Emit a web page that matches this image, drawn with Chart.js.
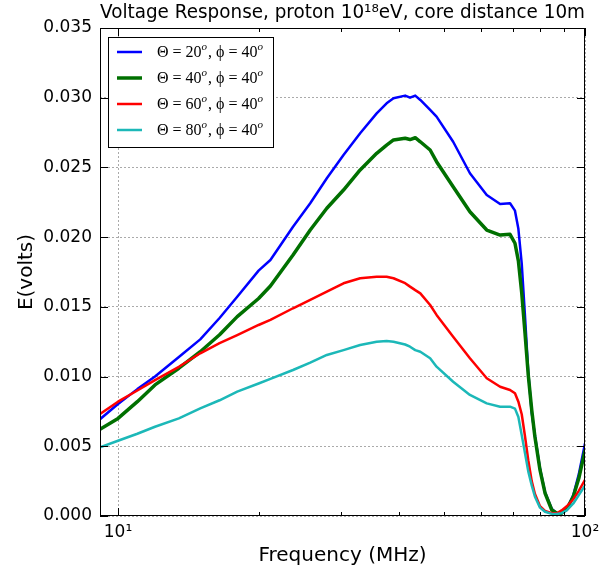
<!DOCTYPE html>
<html>
<head>
<meta charset="utf-8">
<script src="https://cdn.jsdelivr.net/npm/chart.js@4.4.0/dist/chart.umd.min.js"></script>
<style>
  html, body { margin: 0; padding: 0; background: #fff; }
  #wrap { width: 607px; height: 566px; }
</style>
</head>
<body>
<div id="wrap"><canvas id="voltChart" width="607" height="566"></canvas></div>
<script>
// frequency samples (MHz), shared by the four curves
const freqs = [9.15, 10, 11, 12, 13.5, 15, 16.5, 18, 20, 21.2, 23.7, 25.8, 28, 30.4, 33, 35.8, 37.6, 38.9,
  41.2, 42.2, 43.3, 44.4, 46.6, 48.1, 52.2, 56.7, 61.6, 65.8, 69.1, 70.8, 72.0, 73.2, 74.4, 75.6, 76.9,
  78.1, 80.1, 82.1, 84.9, 87.0, 89.1, 91.4, 94.4, 97.0, 100];

// E (volts)
const theta20 = [0.00694, 0.00803, 0.0091, 0.0100, 0.0114, 0.01267, 0.0142, 0.01573, 0.0176, 0.01836, 0.02075,
  0.02243, 0.02422, 0.02589, 0.02745, 0.02888, 0.0296, 0.02996, 0.03015, 0.0300, 0.03015, 0.02984, 0.02912,
  0.02864, 0.02684, 0.02458, 0.02302, 0.02238, 0.02243, 0.0219, 0.0206, 0.0181, 0.0143, 0.0103, 0.0074,
  0.0058, 0.0034, 0.0017, 0.0005, 0.0002, 0.0002, 0.0005, 0.0015, 0.0030, 0.0052];
const theta40 = [0.00622, 0.0070, 0.0082, 0.0094, 0.0106, 0.01178, 0.0130, 0.0143, 0.0156, 0.0165, 0.01872,
  0.02051, 0.02207, 0.02338, 0.02482, 0.02601, 0.0266, 0.02697, 0.02709, 0.0270, 0.02713, 0.02684, 0.02625,
  0.02541, 0.02362, 0.02182, 0.02051, 0.02015, 0.0202, 0.01956, 0.0183, 0.0160, 0.0131, 0.0101, 0.0076,
  0.0057, 0.0033, 0.00165, 0.00043, 0.0002, 0.0002, 0.0005, 0.0014, 0.0027, 0.0047];
const theta60 = [0.00732, 0.0082, 0.0090, 0.00975, 0.0107, 0.01167, 0.0124, 0.01298, 0.0137, 0.01406, 0.0149,
  0.0155, 0.01609, 0.01669, 0.01705, 0.01716, 0.01716, 0.01705, 0.0167, 0.01645, 0.0162, 0.01597, 0.01513,
  0.01442, 0.01286, 0.01131, 0.00988, 0.00927, 0.00904, 0.0088, 0.0082, 0.0073, 0.0057, 0.0040, 0.0025,
  0.0016, 0.0007, 0.00036, 0.0002, 0.0002, 0.0004, 0.0007, 0.0012, 0.0018, 0.0026];
const theta80 = [0.00493, 0.0054, 0.0059, 0.0064, 0.0070, 0.00772, 0.0083, 0.00892, 0.0095, 0.00983, 0.01047,
  0.0110, 0.01155, 0.0119, 0.01226, 0.0125, 0.01255, 0.0125, 0.0123, 0.01214, 0.0119, 0.01178, 0.01131,
  0.01071, 0.00963, 0.00868, 0.00808, 0.00784, 0.00784, 0.0077, 0.0071, 0.0058, 0.0045, 0.0032, 0.0022,
  0.0014, 0.0006, 0.0003, 0.00015, 0.00014, 0.0002, 0.0004, 0.0009, 0.0015, 0.0022];

const seriesLabels = ['Θ = 20ᵒ, ϕ = 40ᵒ', 'Θ = 40ᵒ, ϕ = 40ᵒ', 'Θ = 60ᵒ, ϕ = 40ᵒ', 'Θ = 80ᵒ, ϕ = 40ᵒ'];
const xTickValues = [10, 20, 30, 40, 50, 60, 70, 80, 90, 100];
const xTickLabels = { 10: '10¹', 100: '10²' };
const yTickValues = [0, 0.005, 0.010, 0.015, 0.020, 0.025, 0.030, 0.035];

const toPoints = vals => freqs.map((f, i) => ({ x: f, y: vals[i] }));

// inward ticks, black frame and the boxed legend inside the axes
const framePlugin = {
  id: 'framePlugin',
  afterDatasetsDraw(chart) {
    const { ctx, chartArea: a, scales: { x, y } } = chart;
    const seg = (x1, y1, x2, y2) => { ctx.beginPath(); ctx.moveTo(x1, y1); ctx.lineTo(x2, y2); ctx.stroke(); };
    ctx.save();
    ctx.strokeStyle = '#000';
    ctx.lineWidth = 1;
    xTickValues.forEach(v => {
      const px = Math.round(x.getPixelForValue(v)) + 0.5;
      const len = xTickLabels[v] ? 8 : 4;
      seg(px, a.bottom, px, a.bottom - len);
      seg(px, a.top, px, a.top + len);
    });
    yTickValues.forEach(v => {
      const py = Math.round(y.getPixelForValue(v)) + 0.5;
      seg(a.left, py, a.left + 8, py);
      seg(a.right, py, a.right - 8, py);
    });
    ctx.strokeRect(Math.round(a.left) + 0.5, Math.round(a.top) + 0.5, Math.round(a.width) - 1, Math.round(a.height) - 1);

    // legend
    const bx = a.left + 8, by = a.top + 9;
    ctx.fillStyle = '#fff';
    ctx.fillRect(bx, by, 165, 110);
    ctx.strokeRect(bx + 0.5, by + 0.5, 165, 110);
    chart.data.datasets.forEach((ds, i) => {
      const ry = by + 15 + 26 * i;
      ctx.strokeStyle = ds.borderColor;
      ctx.lineWidth = ds.borderWidth;
      seg(bx + 9, ry, bx + 34, ry);
      // label, with the "o" exponents raised
      ctx.fillStyle = '#000';
      ctx.textBaseline = 'middle';
      let tx = bx + 49;
      ds.label.split('ᵒ').forEach((part, k, arr) => {
        ctx.font = '16px "Liberation Serif"';
        ctx.fillText(part, tx, ry + 1);
        tx += ctx.measureText(part).width;
        if (k < arr.length - 1) {
          ctx.font = 'italic 11px "Liberation Serif"';
          ctx.fillText('o', tx, ry - 5);
          tx += ctx.measureText('o').width + 1;
        }
      });
    });
    ctx.restore();
  }
};

new Chart(document.getElementById('voltChart'), {
  type: 'line',
  data: {
    datasets: [
      { label: seriesLabels[0], data: toPoints(theta20), borderColor: '#0000ff', borderWidth: 2.5, order: 4 },
      { label: seriesLabels[1], data: toPoints(theta40), borderColor: '#007000', borderWidth: 3.5, order: 3 },
      { label: seriesLabels[2], data: toPoints(theta60), borderColor: '#ff0000', borderWidth: 2.5, order: 2 },
      { label: seriesLabels[3], data: toPoints(theta80), borderColor: '#1cb8b8', borderWidth: 2.5, order: 1 }
    ]
  },
  options: {
    responsive: false,
    animation: false,
    layout: { padding: { right: 22 } },
    elements: { point: { radius: 0 }, line: { tension: 0, borderJoinStyle: 'round', borderCapStyle: 'round' } },
    plugins: {
      legend: { display: false },
      tooltip: { enabled: false },
      title: {
        display: true,
        fullSize: false,
        text: 'Voltage Response, proton 10¹⁸eV, core distance 10m',
        color: '#000',
        font: { family: '"DejaVu Sans"', size: 19, weight: 'normal', lineHeight: 1.2 },
        padding: { top: 2, bottom: 3.2 }
      }
    },
    scales: {
      x: {
        type: 'logarithmic',
        min: 9.15,
        max: 100,
        afterBuildTicks: s => { s.ticks = xTickValues.map(v => ({ value: v, major: !!xTickLabels[v] })); },
        afterFit: s => { s.height = 50; },
        grid: {
          color: c => (c.tick && xTickLabels[c.tick.value] ? '#aaaaaa' : 'rgba(0,0,0,0)'),
          lineWidth: 1,
          drawTicks: false
        },
        border: { display: false, dash: [2, 2] },
        ticks: {
          autoSkip: false,
          maxRotation: 0,
          padding: 6,
          color: '#000',
          font: { family: '"DejaVu Sans"', size: 17 },
          callback: v => xTickLabels[v] || ''
        },
        title: {
          display: true,
          text: 'Frequency (MHz)',
          color: '#000',
          font: { family: '"DejaVu Sans"', size: 20, lineHeight: 1 },
          padding: { top: 0, bottom: 0 }
        }
      },
      y: {
        min: 0,
        max: 0.035,
        afterBuildTicks: s => { s.ticks = yTickValues.map(v => ({ value: v })); },
        afterFit: s => { s.width = 100; },
        grid: { color: '#aaaaaa', lineWidth: 1, drawTicks: false },
        border: { display: false, dash: [2, 2] },
        ticks: {
          padding: 8,
          color: '#000',
          font: { family: '"DejaVu Sans"', size: 17 },
          callback: v => v.toFixed(3)
        },
        title: {
          display: true,
          text: 'E(volts)',
          color: '#000',
          font: { family: '"DejaVu Sans"', size: 20, lineHeight: 1 },
          padding: { top: 17, bottom: 0 }
        }
      }
    }
  },
  plugins: [framePlugin]
});
</script>
</body>
</html>
